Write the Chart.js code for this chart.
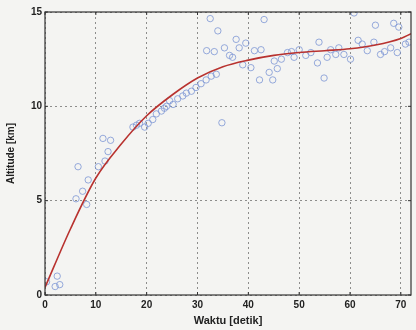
<!DOCTYPE html>
<html>
<head>
<meta charset="utf-8">
<script src="https://cdn.jsdelivr.net/npm/chart.js@4"></script>
<style>
  html, body { margin: 0; padding: 0; background: #f4f4f2; }
  #wrap { width: 416px; height: 330px; }
</style>
</head>
<body>
<div id="wrap"><canvas id="chart" width="416" height="330"></canvas></div>
<script>
/* ── Data ── */
const OBS_T = [0.3, 2.0, 2.9, 2.4, 6.1, 6.5, 7.4, 8.2, 8.5, 10.5, 11.8, 12.4, 11.4, 12.9,
  17.3, 18.0, 18.6, 19.6, 20.3, 21.2, 21.9, 22.9, 23.5, 23.9, 24.5, 25.2, 26.1, 27.1, 27.8, 28.8,
  29.7, 30.7, 31.7, 32.7, 33.7,
  31.8, 32.5, 33.3, 34.0, 35.3, 34.8, 36.3, 36.9, 37.6, 38.2, 38.9, 39.5, 40.5, 41.2, 42.5, 43.1,
  42.2, 44.1, 44.8, 45.1, 45.7, 46.5, 47.7, 48.5, 49.0, 50.0, 51.3, 52.3, 53.6, 53.9, 54.9, 55.5,
  56.2, 57.2, 57.8, 58.8, 60.1, 60.8, 61.6, 62.4, 63.4, 64.7, 65.0, 66.0, 66.8, 68.0, 68.6, 69.6,
  69.3, 70.9, 71.6];
const OBS_H = [0.7, 0.45, 0.55, 1.0, 5.1, 6.8, 5.5, 4.8, 6.1, 6.8, 7.1, 7.6, 8.3, 8.2,
  8.9, 9.0, 9.1, 8.9, 9.1, 9.3, 9.6, 9.75, 9.9, 10.0, 10.3, 10.1, 10.4, 10.55, 10.7, 10.8,
  11.0, 11.2, 11.4, 11.6, 11.7,
  12.95, 14.65, 12.9, 14.0, 13.1, 9.13, 12.7, 12.6, 13.55, 13.1, 12.2, 13.35, 12.05, 12.95, 13.0, 14.6,
  11.4, 11.8, 11.4, 12.4, 12.0, 12.5, 12.85, 12.9, 12.6, 13.0, 12.7, 12.85, 12.3, 13.4, 11.5, 12.6,
  13.0, 12.75, 13.1, 12.75, 12.5, 14.95, 13.5, 13.3, 12.95, 13.4, 14.3, 12.75, 12.9, 13.1, 14.4, 14.2,
  12.85, 13.3, 13.4];

const FIT_T = [0, 5, 10, 15, 20, 25, 30, 35, 40, 45, 50, 55, 60, 65, 70, 72];
const FIT_H = [0.4, 3.5, 6.2, 8.0, 9.5, 10.6, 11.5, 12.1, 12.45, 12.7, 12.85, 12.95, 13.05, 13.25, 13.6, 13.85];

const X_TICKS = [0, 10, 20, 30, 40, 50, 60, 70];
const Y_TICKS = [0, 5, 10, 15];

/* ── Plugins ── */
const frameBox = {
  id: 'frameBox',
  afterDatasetsDraw(chart) {
    const { ctx, chartArea: a } = chart;
    ctx.save();
    ctx.strokeStyle = '#333';
    ctx.lineWidth = 1.2;
    ctx.strokeRect(a.left, a.top, a.right - a.left, a.bottom - a.top);
    // inward tick marks on all four sides
    ctx.lineWidth = 1;
    const xs = chart.scales.x, ys = chart.scales.y;
    X_TICKS.forEach(v => {
      const px = xs.getPixelForValue(v);
      ctx.beginPath();
      ctx.moveTo(px, a.bottom); ctx.lineTo(px, a.bottom - 3);
      ctx.moveTo(px, a.top);    ctx.lineTo(px, a.top + 3);
      ctx.stroke();
    });
    Y_TICKS.forEach(v => {
      const py = ys.getPixelForValue(v);
      ctx.beginPath();
      ctx.moveTo(a.left, py);  ctx.lineTo(a.left + 3, py);
      ctx.moveTo(a.right, py); ctx.lineTo(a.right - 3, py);
      ctx.stroke();
    });
    ctx.restore();
  },
};

/* ── Chart ── */
const gridStyle = {
  color: 'rgba(60,60,60,0.7)',
  lineWidth: 0.8,
  tickLength: 0,
  drawTicks: false,
};

new Chart(document.getElementById('chart'), {
  type: 'scatter',
  data: {
    datasets: [
      {
        label: 'fit',
        type: 'line',
        data: FIT_T.map((t, i) => ({ x: t, y: FIT_H[i] })),
        borderColor: '#b8322f',
        borderWidth: 1.6,
        pointRadius: 0,
        cubicInterpolationMode: 'monotone',
        fill: false,
        order: 0,
      },
      {
        label: 'data',
        data: OBS_T.map((t, i) => ({ x: t, y: OBS_H[i] })),
        pointStyle: 'circle',
        pointRadius: 3.2,
        borderWidth: 1,
        borderColor: 'rgba(125,150,212,0.8)',
        backgroundColor: 'rgba(0,0,0,0)',
        order: 1,
      },
    ],
  },
  options: {
    responsive: false,
    animation: false,
    layout: { padding: { top: 12, right: 3, left: 5, bottom: 0 } },
    plugins: { legend: { display: false }, tooltip: { enabled: false } },
    scales: {
      x: {
        type: 'linear', min: 0, max: 72,
        afterFit: s => { s.height = 35; },
        afterBuildTicks: s => { s.ticks = X_TICKS.map(v => ({ value: v })); },
        border: { display: false, dash: [2, 3] },
        grid: { ...gridStyle },
        ticks: { color: '#222', padding: 4, font: { family: 'Liberation Sans', size: 10, weight: 'bold' } },
        title: {
          display: true, text: 'Waktu [detik]', color: '#222', padding: { top: 0, bottom: 2 },
          font: { family: 'Liberation Sans', size: 11, weight: 'bold' },
        },
      },
      y: {
        type: 'linear', min: 0, max: 15,
        afterFit: s => { s.width = 40; },
        afterBuildTicks: s => { s.ticks = Y_TICKS.map(v => ({ value: v })); },
        border: { display: false, dash: [2, 3] },
        grid: { ...gridStyle },
        ticks: { color: '#222', padding: 3, font: { family: 'Liberation Sans', size: 10, weight: 'bold' } },
        title: {
          display: true, text: 'Altitude [km]', color: '#222', padding: { top: 0, bottom: 6 },
          font: { family: 'Liberation Sans', size: 10, weight: 'bold' },
        },
      },
    },
  },
  plugins: [frameBox],
});
</script>
</body>
</html>
